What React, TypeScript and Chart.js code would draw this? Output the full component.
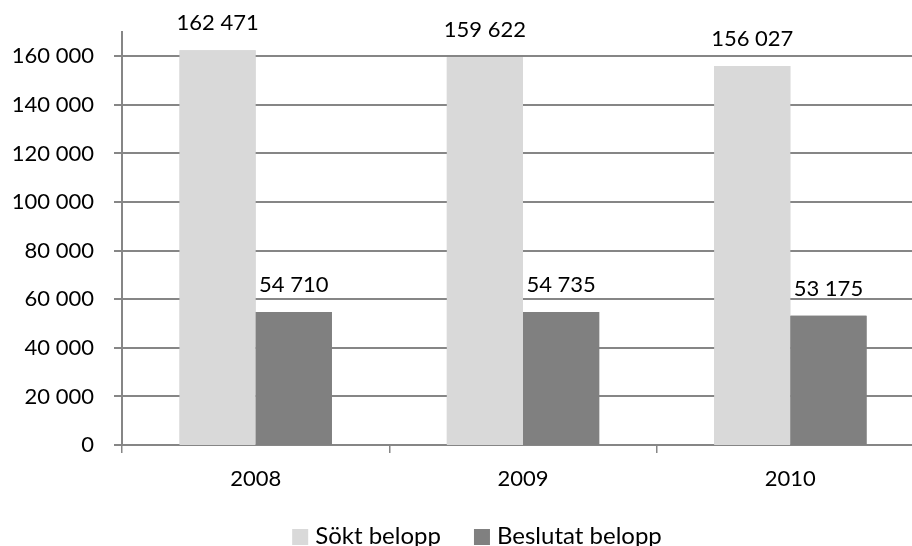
import React, { useEffect, useRef } from "react";
import { Chart, registerables } from "chart.js";

Chart.register(...registerables);

const categories = ["2008", "2009", "2010"];
const soktValues = [162471, 159622, 156027];
const beslutatValues = [54710, 54735, 53175];
const seriesNames = ["Sökt belopp", "Beslutat belopp"];
const seriesColors = ["#D9D9D9", "#808080"];
const yTickValues = [0, 20000, 40000, 60000, 80000, 100000, 120000, 140000, 160000];
const yMax = 170000;

const FONT = "Lato, 'Open Sans', sans-serif";
const FONT_SIZE = 22;
const LEGEND_FONT_SIZE = 24;
const GRID_COLOR = "rgb(134, 134, 134)";

const fmt = (v: number) => String(Math.round(v)).replace(/\B(?=(\d{3})+(?!\d))/g, " ");

// Draws horizontal gridlines as filled strips, then redraws the bars on top of them.
const gridPlugin = {
  id: "yGrid",
  afterDraw(chart: any) {
    const ctx = chart.ctx;
    const y = chart.scales.y;
    const area = chart.chartArea;
    ctx.save();
    ctx.globalAlpha = 1;
    ctx.globalCompositeOperation = "source-over";
    ctx.fillStyle = GRID_COLOR;
    yTickValues.forEach((v) => {
      const py = Math.round(y.getPixelForValue(v));
      ctx.fillRect(area.left - 8, py - 1, area.right - area.left + 8, 2);
    });
    ctx.restore();
    chart.data.datasets.forEach((_ds: any, i: number) => {
      const meta = chart.getDatasetMeta(i);
      meta.data.forEach((el: any) => el.draw(ctx, area));
    });
  },
};

const dataLabelsPlugin = {
  id: "dataLabels",
  afterDraw(chart: any) {
    const ctx = chart.ctx;
    ctx.save();
    ctx.font = `${FONT_SIZE}px ${FONT}`;
    ctx.fillStyle = "#000";
    ctx.textAlign = "center";
    ctx.textBaseline = "alphabetic";
    chart.data.datasets.forEach((ds: any, i: number) => {
      const meta = chart.getDatasetMeta(i);
      meta.data.forEach((el: any, j: number) => {
        ctx.fillText(fmt(ds.data[j]), el.x, el.y - 20);
      });
    });
    ctx.restore();
  },
};

const legendPlugin = {
  id: "customLegend",
  afterDraw(chart: any) {
    const ctx = chart.ctx;
    ctx.save();
    ctx.font = `${LEGEND_FONT_SIZE}px ${FONT}`;
    ctx.textBaseline = "alphabetic";
    ctx.textAlign = "left";
    const box = 16;
    const gapBoxText = 7;
    const gapItems = 33;
    const widths = seriesNames.map((n) => ctx.measureText(n).width);
    const total = widths.reduce((a, w) => a + box + gapBoxText + w, 0) + gapItems * (seriesNames.length - 1);
    let x = 477 - total / 2;
    const boxTop = 529;
    const baseline = 544;
    seriesNames.forEach((n, i) => {
      ctx.fillStyle = seriesColors[i];
      ctx.fillRect(x, boxTop, box, box);
      x += box + gapBoxText;
      ctx.fillStyle = "#000";
      ctx.fillText(n, x, baseline);
      x += widths[i] + gapItems;
    });
    ctx.restore();
  },
};

export default function App() {
  const ref = useRef<HTMLCanvasElement>(null);
  useEffect(() => {
    const canvas = ref.current!;
    const chart = new Chart(canvas, {
      type: "bar",
      data: {
        labels: categories,
        datasets: [
          { label: seriesNames[0], data: soktValues, backgroundColor: seriesColors[0], borderWidth: 0 },
          { label: seriesNames[1], data: beslutatValues, backgroundColor: seriesColors[1], borderWidth: 0 },
        ],
      },
      options: {
        responsive: false,
        animation: false,
        devicePixelRatio: 1,
        layout: { padding: { left: 0, top: 32, right: 16, bottom: 51 } },
        datasets: { bar: { barPercentage: 1, categoryPercentage: 0.57 } } as any,
        plugins: {
          legend: { display: false },
          tooltip: { enabled: false },
        },
        scales: {
          x: {
            grid: {
              offset: true,
              drawOnChartArea: false,
              drawTicks: true,
              tickLength: 8,
              color: "#868686",
              lineWidth: 1.5,
            },
            border: { color: "#868686", width: 2 },
            ticks: {
              font: { family: FONT, size: FONT_SIZE },
              color: "#000",
              padding: 13,
            },
            afterFit(scale: any) {
              scale.height = 50;
              scale.paddingLeft = 0;
              scale.paddingRight = 0;
            },
          },
          y: {
            min: 0,
            max: yMax,
            grid: { display: false },
            border: { color: "#868686", width: 2 },
            ticks: {
              autoSkip: false,
              font: { family: FONT, size: FONT_SIZE },
              color: "#000",
              padding: 20,
              callback: (v: any) => fmt(Number(v)),
            },
            afterBuildTicks(scale: any) {
              scale.ticks = yTickValues.map((v) => ({ value: v }));
            },
            afterFit(scale: any) {
              scale.width = 122;
              scale.paddingTop = 0;
              scale.paddingBottom = 0;
            },
          },
        },
      },
      plugins: [gridPlugin, dataLabelsPlugin, legendPlugin],
    });
    return () => chart.destroy();
  }, []);
  return (
    <div
      style={{
        position: "fixed",
        left: 0,
        top: 0,
        width: 912,
        height: 546,
        overflow: "hidden",
        background: "#fff",
      }}
    >
      <canvas ref={ref} width={940} height={546} style={{ display: "block" }} />
    </div>
  );
}
